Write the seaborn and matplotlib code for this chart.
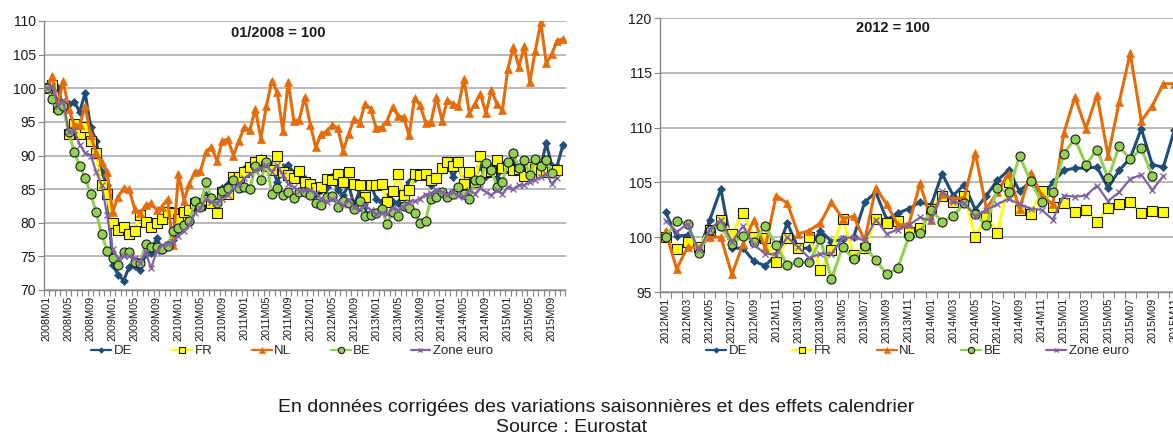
import numpy as np
import pandas as pd

import seaborn as sns
import matplotlib.pyplot as plt
from matplotlib.lines import Line2D

nan = np.nan

months_left = [f"{y}M{m:02d}" for y in range(2008, 2016) for m in range(1, 13)][:95]
months_right = [f"{y}M{m:02d}" for y in range(2012, 2016) for m in range(1, 13)][:47]

de_left = [
    100.0, 100.6, 100.1, 97.2, 97.6, 98.0, 96.5, 99.3, 94.2, 92.2,
    87.6, 85.6, 73.7, 72.3, 71.4, 73.4, 73.5, 73.0, 75.3, 75.5,
    77.8, 76.0, 76.9, 77.4, 78.9, 79.6, 80.6, 82.4, 82.6, 84.1,
    82.9, 82.9, 85.1, 85.8, 86.3, 87.1, 88.0, 88.0, 88.6, 89.7,
    89.0, 88.5, 86.0, 88.3, 88.6, 87.4, 87.2, 86.5, 85.2, 84.3,
    84.8, 85.3, 86.8, 84.8, 84.1, 85.6, 82.6, 84.8, 81.4, 85.8,
    83.6, 83.1, 83.8, 83.1, 83.0, 84.6, 86.1, 86.6, 87.1, 87.3,
    85.6, 86.8, 88.5, 88.8, 86.8, 88.5, 86.0, 86.1, 86.8, 88.4,
    86.9, 88.3, 86.6, 88.0, 88.3, 89.0, 87.8, 88.5, 88.2, 89.3,
    88.5, 91.8, 88.5, 88.5, 91.5,
]
fr_left = [
    100.0, 100.5, 97.2, 97.4, 93.2, 94.7, 93.2, 94.2, 92.2, 90.3,
    85.6, 84.3, 79.9, 78.9, 79.4, 78.4, 78.8, 81.1, 80.1, 79.3,
    80.0, 80.5, 81.6, 81.5, 80.6, 81.6, 81.9, 82.9, 82.6, 83.4,
    82.9, 81.5, 84.6, 84.3, 86.8, 86.8, 87.6, 88.3, 89.0, 89.3,
    88.5, 87.8, 89.9, 87.6, 87.1, 86.6, 87.7, 86.0, 85.7, 85.1,
    85.3, 86.5, 86.3, 87.2, 86.0, 87.6, 85.7, 85.6, 83.8, 85.6,
    85.6, 85.7, 83.1, 84.7, 87.2, 84.1, 84.8, 87.2, 87.1, 87.2,
    86.3, 86.7, 88.1, 89.0, 88.5, 89.0, 85.7, 87.6, 86.0, 90.0,
    87.5, 87.7, 89.3, 88.2, 88.5, 87.8, 88.0, 86.9, 88.3, 88.0,
    87.5, 87.6, 87.9, 87.8, nan,
]
nl_left = [
    100.0, 101.8, 97.4, 101.1, 96.9, 94.6, 94.5, 97.4, 93.0, 90.3,
    89.0, 87.6, 81.6, 83.9, 85.1, 85.0, 82.1, 81.4, 82.6, 82.9,
    81.9, 82.4, 83.5, 76.7, 87.3, 83.3, 85.8, 87.6, 87.7, 90.5,
    91.3, 89.2, 92.2, 92.4, 90.0, 92.2, 94.2, 93.8, 96.9, 92.5,
    97.3, 101.1, 99.4, 93.7, 101.0, 95.1, 95.3, 98.7, 94.6, 91.2,
    93.2, 93.6, 94.5, 94.1, 90.7, 93.2, 95.5, 94.9, 97.7, 96.9,
    94.1, 94.2, 95.2, 97.2, 95.9, 95.7, 93.0, 98.5, 97.5, 94.9,
    95.0, 98.7, 95.2, 98.2, 97.7, 97.3, 101.4, 96.3, 97.7, 99.2,
    96.3, 99.7, 97.7, 96.7, 102.9, 106.1, 103.2, 106.3, 100.9, 105.6,
    109.8, 103.7, 105.1, 107.1, 107.3,
]
be_left = [
    100.0, 98.4, 96.7, 97.4, 93.5, 90.5, 88.5, 86.6, 84.3, 81.6,
    78.3, 75.8, 74.8, 73.7, 75.7, 75.6, 74.2, 74.0, 76.8, 76.4,
    76.4, 76.1, 76.6, 78.7, 79.2, 79.7, 80.3, 83.2, 82.4, 86.0,
    83.7, 82.9, 84.7, 85.1, 86.3, 85.2, 85.3, 85.0, 88.4, 86.3,
    89.0, 84.3, 85.1, 84.2, 84.5, 83.7, 84.6, 84.6, 84.2, 83.0,
    82.6, 83.8, 84.0, 82.4, 83.3, 83.0, 82.0, 83.2, 81.0, 81.2,
    81.5, 82.0, 79.8, 81.6, 81.0, 82.5, 82.2, 81.5, 80.0, 80.3,
    83.6, 83.8, 84.5, 83.9, 84.3, 85.3, 84.3, 83.6, 86.3, 86.3,
    88.9, 87.8, 85.3, 86.1, 89.0, 90.3, 88.2, 89.3, 87.1, 89.5,
    88.5, 89.3, 87.4, nan, nan,
]
ze_left = [
    100.0, 100.3, 97.4, 98.2, 93.5, 93.8, 91.6, 90.4, 90.0, 87.6,
    85.6, 81.1, 76.1, 74.7, 75.0, 75.0, 74.7, 74.0, 75.7, 73.2,
    75.7, 76.7, 76.9, 77.1, 78.1, 78.7, 79.7, 81.4, 82.2, 83.6,
    83.1, 83.0, 83.6, 84.1, 85.1, 85.7, 86.6, 87.2, 87.8, 88.1,
    88.6, 87.6, 88.6, 87.1, 85.8, 85.3, 84.7, 84.8, 84.9, 84.4,
    83.6, 83.1, 83.5, 83.3, 82.6, 83.4, 82.3, 81.9, 82.6, 81.9,
    81.3, 81.5, 81.3, 82.2, 81.9, 82.4, 83.1, 83.2, 83.6, 84.2,
    84.4, 84.9, 84.6, 84.2, 84.5, 84.0, 83.8, 84.8, 84.3, 85.1,
    84.6, 84.1, 84.8, 84.3, 85.3, 85.0, 85.6, 85.6, 86.1, 86.4,
    86.8, 87.3, 85.8, 86.7, nan,
]

de_right = [
    102.3, 100.1, 100.2, 98.6, 101.6, 104.4, 99.0, 99.0, 97.8, 97.4,
    98.4, 101.3, 99.0, 99.0, 100.6, 99.6, 99.8, 100.0, 103.2, 104.1,
    101.6, 102.2, 102.6, 103.2, 102.9, 105.8, 103.8, 104.8, 102.5, 103.8,
    105.2, 106.1, 104.2, 105.1, 103.7, 105.0, 106.1, 106.3, 106.3, 106.4,
    104.5, 106.1, 107.2, 109.9, 106.6, 106.4, 109.8,
]
fr_right = [
    100.0, 98.9, 99.6, 99.1, 100.7, 101.6, 100.3, 102.2, 100.0, 99.9,
    97.7, 99.9, 99.0, 100.0, 97.0, 98.8, 101.7, 98.4, 99.0, 101.7,
    101.3, 101.5, 100.5, 100.8, 102.6, 103.8, 103.2, 103.8, 100.0, 101.9,
    100.4, 105.0, 102.5, 102.1, 104.2, 102.8, 103.1, 102.3, 102.5, 101.4,
    102.7, 103.0, 103.2, 102.2, 102.4, 102.3, nan,
]
nl_right = [
    100.6, 97.1, 99.1, 99.0, 100.0, 100.0, 96.6, 99.4, 101.6, 99.0,
    103.8, 103.1, 100.3, 100.6, 101.3, 103.2, 101.7, 101.9, 99.7, 104.5,
    103.0, 101.1, 101.2, 104.9, 101.6, 103.9, 103.5, 103.6, 107.7, 102.6,
    104.1, 105.8, 102.6, 105.9, 103.8, 103.0, 109.5, 112.8, 109.9, 113.0,
    107.4, 112.3, 116.8, 110.6, 112.0, 114.0, 114.0,
]
be_right = [
    100.0, 101.5, 101.2, 98.6, 100.7, 101.0, 99.4, 100.1, 99.6, 101.0,
    99.3, 97.5, 97.7, 97.7, 99.8, 96.2, 99.1, 98.0, 99.2, 97.9,
    96.6, 97.2, 100.1, 100.4, 102.5, 101.4, 101.9, 103.1, 102.1, 101.1,
    104.5, 104.1, 107.4, 105.1, 103.2, 104.1, 107.6, 109.0, 106.6, 108.0,
    105.4, 108.3, 107.1, 108.1, 105.6, nan, nan,
]
ze_right = [
    101.5, 100.5, 101.2, 98.8, 100.7, 101.6, 99.6, 101.0, 99.3, 98.5,
    98.4, 100.0, 99.1, 98.1, 98.5, 98.5, 99.9, 100.0, 99.7, 101.6,
    100.3, 100.7, 101.1, 101.8, 101.5, 104.2, 103.2, 103.1, 101.9, 102.5,
    103.0, 103.5, 103.0, 102.6, 102.5, 101.6, 103.8, 103.7, 103.8, 104.7,
    103.3, 104.1, 105.3, 105.7, 104.3, 105.6, nan,
]

series_names = ["DE", "FR", "NL", "BE", "Zone euro"]

styles = {
    "DE": dict(color="#1F4E79", marker="D", markersize=4, markeredgecolor="#1F4E79",
               markeredgewidth=0.5, linewidth=2.2),
    "FR": dict(color="#FFFF00", marker="s", markersize=6.5, markeredgecolor="#1a1a1a",
               markeredgewidth=0.8, linewidth=2.2),
    "NL": dict(color="#E46C0A", marker="^", markersize=6, markeredgecolor="#E46C0A",
               markeredgewidth=0.5, linewidth=2.2),
    "BE": dict(color="#92D050", marker="o", markersize=6.5, markeredgecolor="#1a1a1a",
               markeredgewidth=0.8, linewidth=2.2),
    "Zone euro": dict(color="#8064A2", marker="x", markersize=4.5, markeredgecolor="#8064A2",
                      markeredgewidth=1.0, linewidth=1.6),
}

sns.set_theme(style="white")
plt.rcParams["font.family"] = ["Liberation Sans", "DejaVu Sans"]

grid_color = "#A6A6A6"
axis_color = "#868686"


def draw_panel(ax, months, values, ylim, yticks, step, title, title_x, title_y,
               legend_xy, col_space):

    frames = []
    for name, vals in zip(series_names, values):
        frames.append(pd.DataFrame({
            "pos": np.arange(len(months)),
            "valeur": vals,
            "pays": name,
        }))
    df = pd.concat(frames, ignore_index=True)

    for name in series_names:
        sub = df[df["pays"] == name].dropna()
        sns.lineplot(
            data=sub,
            x="pos",
            y="valeur",
            ax=ax,
            legend=False,
            **styles[name]
        )

    n = len(months)
    ax.set_xlim(-0.5, n - 0.5)
    ax.set_ylim(*ylim)
    ax.set_yticks(yticks)
    ax.set_yticklabels([str(t) for t in yticks], fontsize=10, color="#1a1a1a")
    ax.yaxis.grid(True, color=grid_color, linewidth=1.1)
    ax.set_axisbelow(True)

    ax.set_xticks(range(0, n, step))
    ax.set_xticklabels(months[::step], rotation=90, fontsize=7.8, color="#1a1a1a")
    ax.set_xticks(np.arange(-0.5, n, 1), minor=True)
    ax.tick_params(axis="x", which="major", length=0, pad=4)
    ax.tick_params(axis="x", which="minor", length=4, color=axis_color, width=0.8,
                   direction="out", bottom=True)
    ax.tick_params(axis="y", length=4, color=axis_color, width=0.8, left=True, pad=2)

    ax.set_xlabel("")
    ax.set_ylabel("")
    for side in ["top", "right"]:
        ax.spines[side].set_visible(False)
    for side in ["left", "bottom"]:
        ax.spines[side].set_color(axis_color)
        ax.spines[side].set_linewidth(1.0)

    ax.text(title_x, title_y, title, transform=ax.transAxes, ha="center", va="center",
            fontsize=10.5, fontweight="bold", color="#1a1a1a")

    handles = []
    for name in series_names:
        st = dict(styles[name])
        st["markersize"] = st["markersize"] * 0.7
        st["linewidth"] = 1.6
        handles.append(Line2D([0], [0], **st))
    ax.legend(handles, series_names, loc="center", bbox_to_anchor=legend_xy,
              ncol=5, frameon=False, fontsize=9.5, handlelength=1.5,
              handletextpad=0.2, columnspacing=col_space)


fig = plt.figure(figsize=(11.73, 4.38), dpi=100)

ax_left = fig.add_axes([44 / 1173, 1 - 290 / 438, 521.5 / 1173, 269 / 438])
ax_right = fig.add_axes([660 / 1173, 1 - 292 / 438, 520 / 1173, 274 / 438])

draw_panel(
    ax_left, months_left,
    [de_left, fr_left, nl_left, be_left, ze_left],
    (70, 110), list(range(70, 111, 5)), 4,
    "01/2008 = 100", 0.45, 0.955,
    (0.476, (290 - 351) / 269), 3.0
)

draw_panel(
    ax_right, months_right,
    [de_right, fr_right, nl_right, be_right, ze_right],
    (95, 120), list(range(95, 121, 5)), 2,
    "2012 = 100", 0.448, 0.963,
    (0.495, (292 - 351) / 274), 3.4
)

fig.text(0.508, 1 - 407 / 438,
         "En données corrigées des variations saisonnières et des effets calendrier",
         ha="center", va="center", fontsize=14, color="#1a1a1a")
fig.text(0.487, 1 - 428 / 438, "Source : Eurostat",
         ha="center", va="center", fontsize=14, color="#1a1a1a")

plt.savefig("out.png", dpi=100)
plt.close()
